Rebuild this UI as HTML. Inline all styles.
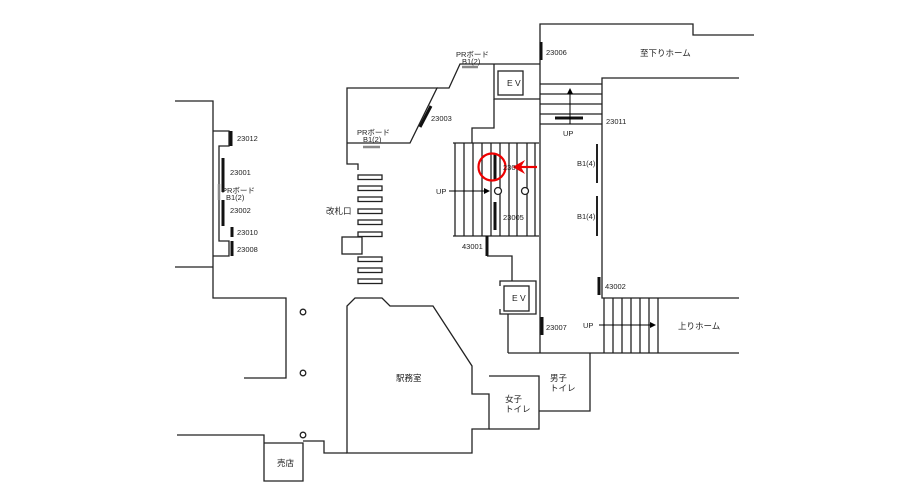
<!DOCTYPE html>
<html><head><meta charset="utf-8"><style>
html,body{margin:0;padding:0;background:#fff;}
svg{display:block;}
text{font-family:"Liberation Sans","Noto Sans CJK JP",sans-serif;fill:#222;}
</style></head><body>
<svg width="919" height="491" viewBox="0 0 919 491" xmlns="http://www.w3.org/2000/svg">
<defs>
<marker id="ah" markerWidth="6" markerHeight="6" refX="5" refY="3" orient="auto"><path d="M0,0 L6,3 L0,6 Z" fill="#000"/></marker>
</defs>
<g fill="none" stroke="#222" stroke-width="1.3">
<polyline points="175,101 213,101 213,298 286,298 286,378 244,378"/>
<line x1="175" y1="267" x2="213" y2="267"/>
<polyline points="213,131 229,131 229,146 219,146 219,241 229,241 229,256 213,256"/>
<polyline points="358,170 358,164 347,164 347,88 437,88 410,143 347,143"/>
<polyline points="437,88 449,88 460,64 540,64"/>
<polyline points="494,64 494,99 540,99"/>
<polyline points="494,99 494,128 472,128 472,143"/>
<rect x="498" y="71" width="25" height="24"/>
<rect x="358" y="175" width="24" height="4.5"/>
<rect x="358" y="186" width="24" height="4.5"/>
<rect x="358" y="197" width="24" height="4.5"/>
<rect x="358" y="209" width="24" height="4.5"/>
<rect x="358" y="220" width="24" height="4.5"/>
<rect x="358" y="232" width="24" height="4.5"/>
<rect x="342" y="237" width="20" height="17"/>
<rect x="358" y="257" width="24" height="4.5"/>
<rect x="358" y="268" width="24" height="4.5"/>
<rect x="358" y="279" width="24" height="4.5"/>
<line x1="453" y1="143" x2="539" y2="143"/>
<line x1="453" y1="236" x2="539" y2="236"/>
<line x1="455" y1="143" x2="455" y2="236"/>
<line x1="464" y1="143" x2="464" y2="236"/>
<line x1="473" y1="143" x2="473" y2="236"/>
<line x1="482" y1="143" x2="482" y2="236"/>
<line x1="491" y1="143" x2="491" y2="236"/>
<line x1="500" y1="143" x2="500" y2="236"/>
<line x1="509" y1="143" x2="509" y2="236"/>
<line x1="517" y1="143" x2="517" y2="236"/>
<line x1="527" y1="143" x2="527" y2="236"/>
<line x1="535" y1="143" x2="535" y2="236"/>
<polyline points="540,353 540,24 693,24 693,35 754,35"/>
<polyline points="739,78 602,78 602,298 739,298"/>
<line x1="540" y1="84" x2="602" y2="84"/>
<line x1="540" y1="94" x2="602" y2="94"/>
<line x1="540" y1="104" x2="602" y2="104"/>
<line x1="540" y1="114" x2="602" y2="114"/>
<line x1="540" y1="124" x2="602" y2="124"/>
<line x1="508" y1="353" x2="739" y2="353"/>
<line x1="604" y1="298" x2="604" y2="353"/>
<line x1="613" y1="298" x2="613" y2="353"/>
<line x1="622" y1="298" x2="622" y2="353"/>
<line x1="631" y1="298" x2="631" y2="353"/>
<line x1="640" y1="298" x2="640" y2="353"/>
<line x1="649" y1="298" x2="649" y2="353"/>
<line x1="658" y1="298" x2="658" y2="353"/>
<polyline points="487,256 512,256 512,281"/>
<polyline points="500,286 500,281 536,281 536,314 500,314 500,309"/>
<rect x="504" y="286" width="25" height="25"/>
<line x1="508" y1="314" x2="508" y2="353"/>
<polyline points="590,353 590,411 539,411"/>
<polyline points="489,376 539,376 539,429 489,429"/>
<polygon points="347,453 347,306 355,298 382,298 390,306 433,306 472,366 472,394 489,394 489,429 472,429 472,453"/>
<polyline points="347,453 324,453 324,441 303,441"/>
<polyline points="177,435 264,435 264,481 303,481 303,443 264,443"/>
<circle cx="303" cy="312" r="2.8"/>
<circle cx="303" cy="373" r="2.8"/>
<circle cx="303" cy="435" r="2.8"/>
<circle cx="498" cy="191" r="3.5" fill="#fff"/>
<circle cx="525" cy="191" r="3.5" fill="#fff"/>
</g>
<g stroke="#111" stroke-width="3">
<line x1="231" y1="131" x2="231" y2="146"/>
<line x1="223" y1="158" x2="223" y2="192"/>
<line x1="223" y1="200" x2="223" y2="226"/>
<line x1="232" y1="227" x2="232" y2="237"/>
<line x1="232" y1="241" x2="232" y2="256"/>
<line x1="420" y1="127" x2="431" y2="106"/>
<line x1="541" y1="42" x2="541" y2="60"/>
<line x1="555" y1="118" x2="583" y2="118"/>
<line x1="495" y1="153" x2="495" y2="181"/>
<line x1="495" y1="202" x2="495" y2="230"/>
<line x1="487" y1="236" x2="487" y2="256"/>
<line x1="542" y1="317" x2="542" y2="335"/>
<line x1="599" y1="277" x2="599" y2="295"/>
</g>
<g stroke="#222" stroke-width="2">
<line x1="597" y1="144" x2="597" y2="183"/>
<line x1="597" y1="196" x2="597" y2="236"/>
</g>
<g stroke="#888" stroke-width="2.5">
<line x1="219" y1="184" x2="219" y2="200"/>
<line x1="462" y1="67" x2="478" y2="67"/>
<line x1="363" y1="147" x2="380" y2="147"/>
</g>
<g stroke="#000" stroke-width="1">
<line x1="570" y1="124" x2="570" y2="89" marker-end="url(#ah)"/>
<line x1="449" y1="191" x2="489" y2="191" marker-end="url(#ah)"/>
<line x1="599" y1="325" x2="655" y2="325" marker-end="url(#ah)"/>
</g>
<circle cx="492" cy="167" r="13.5" fill="none" stroke="#e00" stroke-width="2.2"/>
<line x1="537" y1="167" x2="521" y2="167" stroke="#e00" stroke-width="2.2"/>
<path d="M514,167 L523,162 L520,167 L523,172 Z" fill="#e00" stroke="#e00" stroke-width="1.5"/>
<g font-size="7.5">
<text x="237" y="141">23012</text>
<text x="230" y="175">23001</text>
<text x="222" y="193">PRボード</text>
<text x="226" y="200">B1(2)</text>
<text x="230" y="213">23002</text>
<text x="237" y="235">23010</text>
<text x="237" y="252">23008</text>
<text x="456" y="57">PRボード</text>
<text x="462" y="64">B1(2)</text>
<text x="357" y="135">PRボード</text>
<text x="363" y="142">B1(2)</text>
<text x="431" y="121">23003</text>
<text x="546" y="55">23006</text>
<text x="606" y="124">23011</text>
<text x="563" y="136">UP</text>
<text x="503" y="170">230</text>
<text x="503" y="220">23005</text>
<text x="436" y="194">UP</text>
<text x="577" y="166">B1(4)</text>
<text x="577" y="219">B1(4)</text>
<text x="462" y="249">43001</text>
<text x="605" y="289">43002</text>
<text x="546" y="330">23007</text>
<text x="583" y="328">UP</text>
<text x="507" y="86" font-size="8.5">E V</text>
<text x="512" y="301" font-size="8.5">E V</text>
</g>
<g font-size="8.5">
<text x="326" y="214">改札口</text>
<text x="640" y="56">至下りホーム</text>
<text x="678" y="329">上りホーム</text>
<text x="396" y="381">駅務室</text>
<text x="550" y="381">男子</text>
<text x="550" y="391">トイレ</text>
<text x="505" y="402">女子</text>
<text x="505" y="412">トイレ</text>
<text x="277" y="466">売店</text>
</g>
</svg>
</body></html>
